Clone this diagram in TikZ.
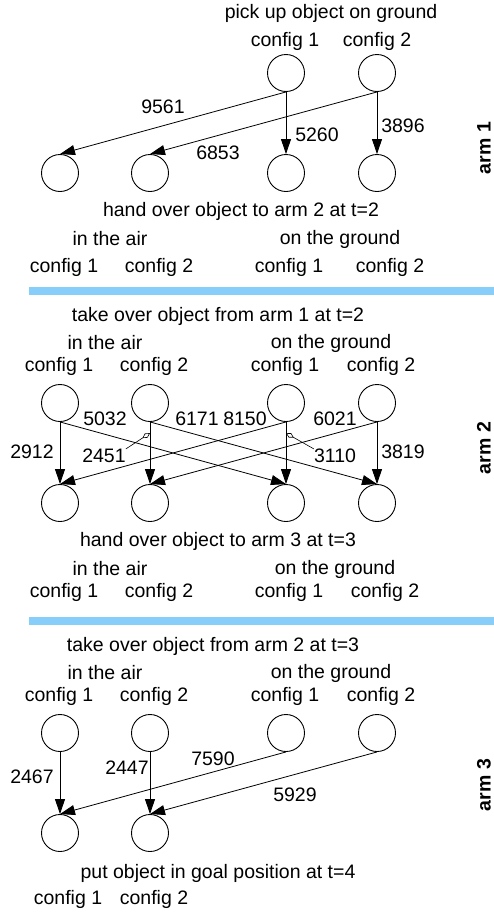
\documentclass[tikz,border=0pt]{standalone}
\usepackage{fontspec}
\setmainfont{Liberation Sans}
\usetikzlibrary{arrows.meta}
\definecolor{sepblue}{RGB}{135,206,250}

\begin{document}
\begin{tikzpicture}[x=1pt, y=-1pt,
    every node/.style={font=\fontsize{19.5}{23}\selectfont, inner sep=0pt},
    cnode/.style={circle, draw, line width=0.9pt, minimum size=37pt},
    trans/.style={-{Triangle[length=15pt,width=10pt]}, line width=0.8pt},
    pinline/.style={-{Diamond[open,length=9pt,width=5pt]}, line width=0.6pt},
    armlabel/.style={rotate=90, font=\fontsize{19.5}{23}\selectfont\bfseries},
    sepline/.style={line width=8pt, draw=sepblue},
]
\useasboundingbox (0,0) rectangle (494,913);

% ======================================================
% arm 1: pick up from the ground, hand over to arm 2
% ======================================================
\node (cap1) at (331,13) {pick up object on ground};
\node (cf13) at (285,41) {config 1};
\node (cf14) at (377,41) {config 2};
\node[cnode] (s13) at (286,73) {};
\node[cnode] (s14) at (377,73) {};
\foreach \x [count=\i] in {60,150,286,377}
  \node[cnode] (d1\i) at (\x,173) {};

\node (hand1) at (241,211) {hand over object to arm 2 at t=2};
\node (air1) at (110,239) {in the air};
\node (gnd1) at (340,239) {on the ground};
\foreach \x/\c [count=\i] in {64/1,159/2,289/1,390/2}
  \node (cd1\i) at (\x,267) {config \c};

\draw[trans] (s13.south) -- (d11.north);
\draw[trans] (s13.south) -- (d13.north);
\draw[trans] (s14.south) -- (d12.north);
\draw[trans] (s14.south) -- (d14.north);
\foreach \w/\x/\y in {9561/163/107, 6853/218/153, 5260/317/135, 3896/403/126}
  \node (w\w) at (\x,\y) {\w};

\node[armlabel] (arm1) at (484,148) {arm 1};
\draw[sepline] (29,291) -- (494,291);

% ======================================================
% arm 2: take over from arm 1, hand over to arm 3
% ======================================================
\begin{scope}[shift={(0,316)}]
  \node (cap2) at (218,0) {take over object from arm 1 at t=2};
  \node (air2) at (105,27) {in the air};
  \node (gnd2) at (331,27) {on the ground};
  \foreach \x/\c [count=\i] in {59/1,154/2,285/1,381/2}
    \node (cs2\i) at (\x,50) {config \c};
  \foreach \x [count=\i] in {60,150,286,377} {
    \node[cnode] (s2\i) at (\x,87) {};
    \node[cnode] (d2\i) at (\x,187) {};
  }

  \node (hand2) at (218,225) {hand over object to arm 3 at t=3};
  \node (air2b) at (110,253) {in the air};
  \node (gnd2b) at (335,253) {on the ground};
  \foreach \x/\c [count=\i] in {64/1,159/2,289/1,385/2}
    \node (cd2\i) at (\x,276) {config \c};

  \draw[trans] (s21.south) -- (d21.north);
  \draw[trans] (s21.south) -- (d23.north);
  \draw[trans] (s22.south) -- coordinate[pos=0.18] (p2451) (d22.north);
  \draw[trans] (s22.south) -- (d24.north);
  \draw[trans] (s23.south) -- (d21.north);
  \draw[trans] (s23.south) -- coordinate[pos=0.18] (p3110) (d23.north);
  \draw[trans] (s24.south) -- (d22.north);
  \draw[trans] (s24.south) -- (d24.north);

  \foreach \w/\x/\y in {2912/32/136, 5032/105/103, 2451/104/140, 6171/197/103,
                        8150/245/103, 3110/335/140, 6021/335/103, 3819/403/136}
    \node (w\w) at (\x,\y) {\w};
  % pins for the two labels sitting off their edges
  \draw[pinline] (w2451.north east) -- (p2451);
  \draw[pinline] (w3110.north west) -- (p3110);

  \node[armlabel] (arm2) at (484,132) {arm 2};
\end{scope}

\draw[sepline] (29,621) -- (494,621);

% ======================================================
% arm 3: take over from arm 2, put in goal position
% ======================================================
\begin{scope}[shift={(0,646)}]
  \node (cap3) at (213,0) {take over object from arm 2 at t=3};
  \node (air3) at (105,27) {in the air};
  \node (gnd3) at (331,27) {on the ground};
  \foreach \x/\c [count=\i] in {59/1,154/2,285/1,381/2}
    \node (cs3\i) at (\x,50) {config \c};
  \foreach \x [count=\i] in {60,150,286,377}
    \node[cnode] (s3\i) at (\x,87) {};
  \node[cnode] (d31) at (60,187) {};
  \node[cnode] (d32) at (150,187) {};

  \node (goal3) at (218,227) {put object in goal position at t=4};
  \node (cd31) at (68,253) {config 1};
  \node (cd32) at (154,253) {config 2};

  \draw[trans] (s31.south) -- (d31.north);
  \draw[trans] (s32.south) -- (d32.north);
  \draw[trans] (s33.south) -- (d31.north);
  \draw[trans] (s34.south) -- (d32.north);
  \foreach \w/\x/\y in {2467/32/131, 2447/127/122, 7590/213/113, 5929/295/149}
    \node (w\w) at (\x,\y) {\w};

  \node[armlabel] (arm3) at (484,139) {arm 3};
\end{scope}

\end{tikzpicture}
\end{document}
